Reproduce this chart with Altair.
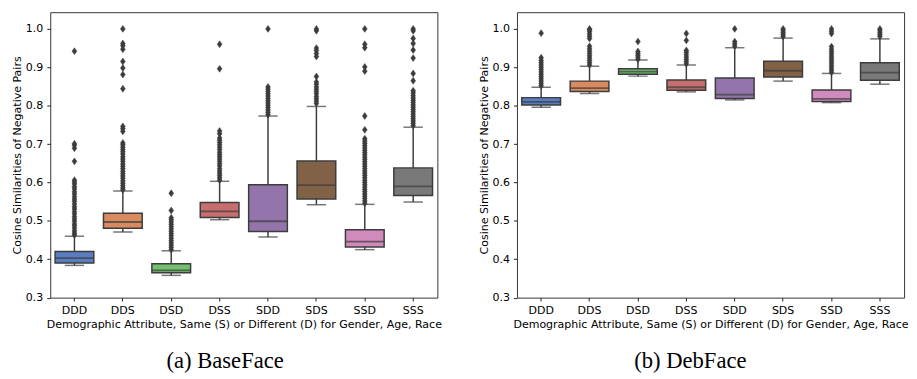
import colorsys
import altair as alt
import pandas as pd

categories = ["DDD", "DDS", "DSD", "DSS", "SDD", "SDS", "SSD", "SSS"]

# BaseFace box statistics
base_q1 = [0.390, 0.481, 0.365, 0.509, 0.472, 0.557, 0.432, 0.566]
base_med = [0.403, 0.497, 0.371, 0.525, 0.499, 0.593, 0.446, 0.590]
base_q3 = [0.420, 0.520, 0.388, 0.548, 0.594, 0.656, 0.477, 0.638]
base_lo = [0.384, 0.471, 0.358, 0.503, 0.458, 0.542, 0.425, 0.549]
base_hi = [0.460, 0.578, 0.422, 0.603, 0.773, 0.798, 0.543, 0.744]
base_out = [
    [0.463, 0.468, 0.474, 0.481, 0.487, 0.492, 0.499, 0.505, 0.511, 0.518, 0.524, 0.531, 0.537, 0.544,
     0.551, 0.557, 0.563, 0.570, 0.576, 0.583, 0.589, 0.596, 0.601, 0.606, 0.655, 0.689, 0.697, 0.701, 0.942],
    [0.581, 0.586, 0.592, 0.598, 0.604, 0.611, 0.617, 0.623, 0.629, 0.636, 0.642, 0.648, 0.655, 0.661,
     0.667, 0.674, 0.680, 0.686, 0.692, 0.698, 0.703, 0.733, 0.740, 0.746, 0.844, 0.881, 0.898, 0.915,
     0.947, 0.956, 0.962, 1.0],
    [0.425, 0.431, 0.437, 0.443, 0.449, 0.455, 0.461, 0.467, 0.473, 0.479, 0.485, 0.491, 0.497, 0.503,
     0.508, 0.527, 0.572],
    [0.606, 0.612, 0.618, 0.624, 0.630, 0.636, 0.643, 0.649, 0.655, 0.661, 0.667, 0.673, 0.679, 0.686,
     0.692, 0.698, 0.704, 0.710, 0.716, 0.727, 0.734, 0.896, 0.960],
    [0.777, 0.783, 0.789, 0.795, 0.801, 0.807, 0.813, 0.819, 0.825, 0.831, 0.837, 0.843, 0.849, 1.0],
    [0.806, 0.812, 0.818, 0.824, 0.831, 0.837, 0.843, 0.849, 0.856, 0.862, 0.876, 0.928, 0.936, 0.944,
     0.950, 0.995, 1.0],
    [0.546, 0.552, 0.558, 0.564, 0.570, 0.576, 0.582, 0.588, 0.594, 0.600, 0.606, 0.612, 0.618, 0.624,
     0.630, 0.636, 0.642, 0.648, 0.654, 0.660, 0.666, 0.672, 0.678, 0.684, 0.690, 0.696, 0.702, 0.708,
     0.714, 0.737, 0.773, 0.890, 0.901, 0.951, 0.960, 1.0],
    [0.748, 0.754, 0.760, 0.766, 0.772, 0.778, 0.784, 0.790, 0.796, 0.802, 0.808, 0.814, 0.820, 0.826,
     0.833, 0.839, 0.865, 0.884, 0.924, 0.945, 0.962, 0.975, 0.995, 1.0],
]

# DebFace box statistics
deb_q1 = [0.802, 0.837, 0.882, 0.840, 0.819, 0.875, 0.811, 0.866]
deb_med = [0.810, 0.846, 0.889, 0.848, 0.829, 0.891, 0.818, 0.886]
deb_q3 = [0.821, 0.864, 0.896, 0.867, 0.872, 0.916, 0.841, 0.912]
deb_lo = [0.796, 0.832, 0.877, 0.836, 0.815, 0.864, 0.808, 0.856]
deb_hi = [0.848, 0.903, 0.919, 0.906, 0.951, 0.976, 0.884, 0.974]
deb_out = [
    [0.852, 0.858, 0.864, 0.870, 0.876, 0.882, 0.888, 0.894, 0.900, 0.906, 0.912, 0.918, 0.925, 0.989],
    [0.906, 0.912, 0.918, 0.924, 0.930, 0.936, 0.942, 0.948, 0.955, 0.975, 0.981, 0.987, 0.993, 0.998, 1.0],
    [0.921, 0.926, 0.931, 0.936, 0.941, 0.967],
    [0.909, 0.915, 0.921, 0.927, 0.933, 0.939, 0.944, 0.970, 0.988],
    [0.955, 0.961, 0.967, 1.0],
    [0.980, 0.985, 0.990, 0.995, 1.0],
    [0.887, 0.893, 0.899, 0.905, 0.911, 0.917, 0.923, 0.929, 0.935, 0.941, 0.947, 0.954, 0.988, 0.994, 1.0],
    [0.980, 0.985, 0.990, 0.995, 1.0],
]

y_ticks = [0.3, 0.4, 0.5, 0.6, 0.7, 0.8, 0.9, 1.0]
x_title = "Demographic Attribute, Same (S) or Different (D) for Gender, Age, Race"
y_title = "Cosine Similarities of Negative Pairs"

muted = ["#4878d0", "#ee854a", "#6acc64", "#d65f5f", "#956cb4", "#8c613c", "#dc7ec0", "#797979"]


def desat(hexc, p=0.75):
    r, g, b = (int(hexc[i:i + 2], 16) / 255 for i in (1, 3, 5))
    h, l, s = colorsys.rgb_to_hls(r, g, b)
    r, g, b = colorsys.hls_to_rgb(h, l, s * p)
    return "#%02x%02x%02x" % (round(r * 255), round(g * 255), round(b * 255))


colors = [desat(c) for c in muted]
LINE = "#3c3c3c"
W, H = 394, 290.5
BOXW = W / 8 * 0.8
DIAMOND = "M0,-1L0.7,0L0,1L-0.7,0Z"


def panel(q1, med, q3, lo, hi, outliers, caption, dx):
    stats = pd.DataFrame({"cat": categories, "q1": q1, "med": med, "q3": q3, "lo": lo, "hi": hi})
    out = pd.DataFrame([{"cat": c, "v": v} for c, vals in zip(categories, outliers) for v in vals])
    x = alt.X("cat:N", sort=categories, title=x_title,
              scale=alt.Scale(paddingInner=0, paddingOuter=0),
              axis=alt.Axis(labelAngle=0))
    yscale = alt.Scale(domain=[0.3, 1.0435], nice=False, zero=False)
    yaxis = alt.Axis(values=y_ticks, format=".1f")

    def Y(f):
        return alt.Y(f, type="quantitative", scale=yscale, axis=yaxis, title=y_title)

    base = alt.Chart(stats)
    whisk = base.mark_rule(color=LINE, strokeWidth=1.5).encode(x=x, y=Y("lo"), y2="hi")
    cap_lo = base.mark_tick(color=LINE, size=BOXW / 2, thickness=1.5).encode(x=x, y=Y("lo"))
    cap_hi = base.mark_tick(color=LINE, size=BOXW / 2, thickness=1.5).encode(x=x, y=Y("hi"))
    box = base.mark_bar(width=BOXW, stroke=LINE, strokeWidth=1.5).encode(
        x=x, y=Y("q1"), y2="q3",
        color=alt.Color("cat:N", scale=alt.Scale(domain=categories, range=colors), legend=None))
    medl = base.mark_tick(color=LINE, size=BOXW, thickness=1.8).encode(x=x, y=Y("med"))
    pts = alt.Chart(out).mark_point(shape=DIAMOND, filled=True, color=LINE, opacity=1, size=49,
                                    stroke=LINE, strokeWidth=0.5).encode(x=x, y=Y("v"))
    return alt.layer(whisk, cap_lo, cap_hi, box, medl, pts).properties(
        width=W, height=H,
        title=alt.TitleParams(caption, orient="bottom", anchor="middle", dx=dx, offset=21,
                              font="Liberation Serif", fontSize=23, fontWeight="normal", color="black"))


left = panel(base_q1, base_med, base_q3, base_lo, base_hi, base_out, "(a) BaseFace", -19)
right = panel(deb_q1, deb_med, deb_q3, deb_lo, deb_hi, deb_out, "(b) DebFace", -20.5)

chart = alt.hconcat(left, right, spacing=36).properties(
    padding={"left": 3, "top": 0, "right": 0, "bottom": 0}
).configure_view(stroke="#333333", strokeWidth=1).configure_axis(
    labelFont="DejaVu Sans", titleFont="DejaVu Sans", labelFontSize=11.2, titleFontSize=11.2,
    titleFontWeight="normal", labelColor="black", titleColor="black", grid=False,
    domain=False, tickColor="#222222", tickSize=3.5, tickWidth=1, labelPadding=4, titlePadding=3
)

chart.save("out.html", embed_options={"renderer": "svg", "actions": False})
